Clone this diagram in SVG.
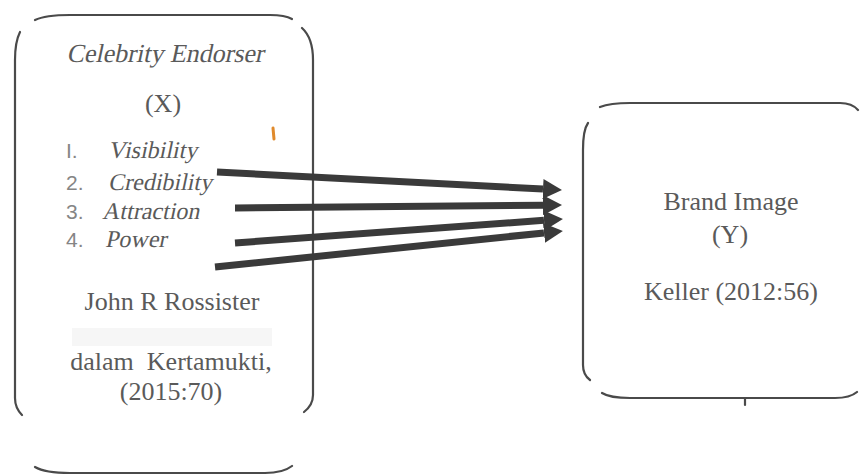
<svg xmlns="http://www.w3.org/2000/svg" width="868" height="475" viewBox="0 0 868 475">
<style>
.frame{fill:none;stroke:#4a4a4a;stroke-width:2.2;stroke-linecap:round}
.t{font-family:"Liberation Serif",serif;font-size:26px;fill:#5a5a5a}
.it{font-size:24px}
.num{font-family:"Liberation Sans",Arial,sans-serif;font-size:21px;fill:#858585}
.arrow{stroke:#3a3a3a;stroke-width:7;fill:none;marker-end:url(#head)}
</style>
<defs>
<marker id="head" markerUnits="userSpaceOnUse" markerWidth="19" markerHeight="20" viewBox="0 0 19 20" refX="0" refY="10" orient="auto">
<path d="M0,0 L19,10 L0,20 z" fill="#3a3a3a"/>
</marker>
</defs>
<rect width="868" height="475" fill="#ffffff"/>
<g id="node-x">
<path class="frame" d="M35,20 Q45,15 70,15 L270,15 Q285,15 292,19"/>
<path class="frame" d="M302,28 Q313,38 313,60 L313,395 Q313,405 304,412"/>
<path class="frame" d="M20,32 Q15,42 15,60 L15,398 Q15,408 22,415"/>
<path class="frame" d="M35,467 Q45,473 70,473 L265,473 Q283,473 292,466"/>
<g transform="skewX(-12)">
<text class="t" x="178.2" y="62" text-anchor="middle">Celebrity Endorser</text>
<text class="t it" x="141.6" y="158">Visibility</text>
<text class="t it" x="148.4" y="190">Credibility</text>
<text class="t it" x="148.6" y="219">Attraction</text>
<text class="t it" x="157.5" y="247">Power</text>
</g>
<text class="t" x="163" y="112" text-anchor="middle">(X)</text>
<text class="num" x="66" y="158">I.</text>
<text class="num" x="66" y="190">2.</text>
<text class="num" x="66" y="219">3.</text>
<text class="num" x="66" y="247">4.</text>
<text class="t" x="172" y="310" text-anchor="middle">John R Rossister</text>
<rect x="72" y="328" width="200" height="18" fill="#f6f6f6"/>
<text class="t" x="171" y="370" text-anchor="middle" xml:space="preserve">dalam  Kertamukti,</text>
<text class="t" x="171" y="400" text-anchor="middle">(2015:70)</text>
<path d="M273,128 L274,139" stroke="#e08a2c" stroke-width="3" stroke-linecap="round" fill="none"/>
</g>
<g id="node-y">
<path class="frame" d="M600,107 Q610,103 630,103 L840,103 Q852,103 858,110"/>
<path class="frame" d="M588,123 Q583,130 583,150 L583,365 Q583,375 590,380"/>
<path class="frame" d="M602,393 Q610,398 630,398 L835,398 Q850,398 857,392"/>
<path class="frame" d="M745,398 L745,405"/>
<text class="t" x="731" y="210" text-anchor="middle">Brand Image</text>
<text class="t" x="730" y="243" text-anchor="middle" font-family="Liberation Sans, Arial, sans-serif" font-size="25">(Y)</text>
<text class="t" x="731" y="300" text-anchor="middle">Keller (2012:56)</text>
</g>
<g id="connectors">
<line class="arrow" x1="217" y1="172" x2="543" y2="189.1"/>
<line class="arrow" x1="235" y1="208" x2="543" y2="205.2"/>
<line class="arrow" x1="235" y1="243" x2="544" y2="220.3"/>
<line class="arrow" x1="215" y1="267" x2="544" y2="232.9"/>
</g>
</svg>
